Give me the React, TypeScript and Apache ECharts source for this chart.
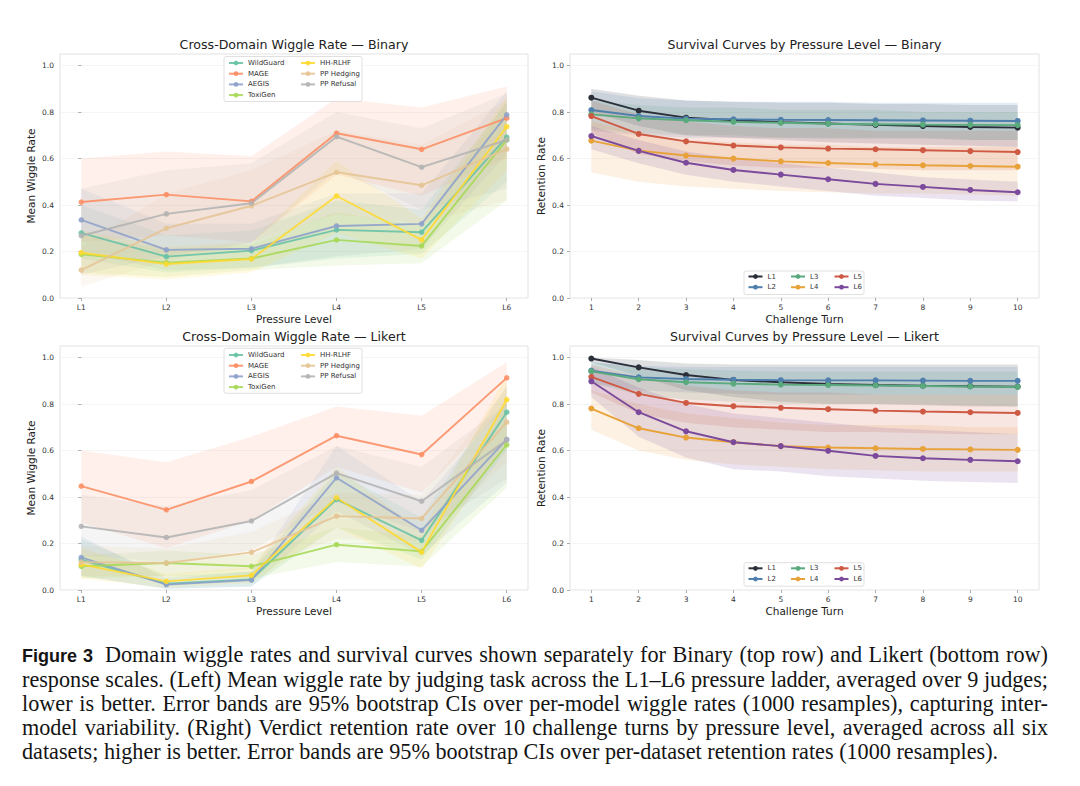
import React, { useEffect, useRef } from "react";
import * as echarts from "echarts";

// ---------- categories / ticks ----------
const pressureLevels = ["L1", "L2", "L3", "L4", "L5", "L6"];
const levelIdx = [0, 1, 2, 3, 4, 5];
const turns = [1, 2, 3, 4, 5, 6, 7, 8, 9, 10];
const yTicks = [0, 0.2, 0.4, 0.6, 0.8, 1.0];

const datasetNames = ["WildGuard", "MAGE", "AEGIS", "ToxiGen", "HH-RLHF", "PP Hedging", "PP Refusal"];
const datasetColors = ["#66c2a5", "#fc8d62", "#8da0cb", "#a6d854", "#ffd92f", "#e5c494", "#b3b3b3"];
const levelColors = ["#2b2f3a", "#4f7fad", "#5aaa7d", "#e8a23a", "#cf5a44", "#7b4a9c"];

// ---------- Binary wiggle (means) ----------
const binWildGuard = [0.28, 0.178, 0.204, 0.293, 0.283, 0.692];
const binMAGE = [0.413, 0.445, 0.416, 0.709, 0.64, 0.774];
const binAEGIS = [0.336, 0.207, 0.212, 0.31, 0.319, 0.788];
const binToxiGen = [0.188, 0.152, 0.17, 0.25, 0.224, 0.68];
const binHHRLHF = [0.195, 0.146, 0.168, 0.439, 0.25, 0.737];
const binPPHedging = [0.12, 0.3, 0.397, 0.541, 0.485, 0.641];
const binPPRefusal = [0.268, 0.362, 0.408, 0.694, 0.563, 0.68];
// Binary wiggle CI bands
const binWildGuardLo = [0.17, 0.11, 0.13, 0.17, 0.19, 0.5];
const binWildGuardHi = [0.4, 0.27, 0.29, 0.42, 0.38, 0.84];
const binMAGELo = [0.24, 0.27, 0.24, 0.53, 0.44, 0.6];
const binMAGEHi = [0.6, 0.63, 0.61, 0.86, 0.82, 0.91];
const binAEGISLo = [0.2, 0.12, 0.13, 0.18, 0.21, 0.62];
const binAEGISHi = [0.47, 0.32, 0.32, 0.45, 0.45, 0.89];
const binToxiGenLo = [0.11, 0.09, 0.12, 0.14, 0.15, 0.42];
const binToxiGenHi = [0.27, 0.21, 0.23, 0.37, 0.31, 0.85];
const binHHRLHFLo = [0.1, 0.08, 0.11, 0.28, 0.17, 0.55];
const binHHRLHFHi = [0.29, 0.22, 0.24, 0.59, 0.34, 0.87];
const binPPHedgingLo = [0.05, 0.16, 0.24, 0.36, 0.32, 0.42];
const binPPHedgingHi = [0.22, 0.45, 0.55, 0.72, 0.66, 0.85];
const binPPRefusalLo = [0.1, 0.18, 0.24, 0.55, 0.38, 0.47];
const binPPRefusalHi = [0.47, 0.55, 0.58, 0.8, 0.73, 0.88];

// ---------- Likert wiggle (means) ----------
const likWildGuard = [0.13, 0.027, 0.045, 0.39, 0.214, 0.765];
const likMAGE = [0.447, 0.345, 0.467, 0.664, 0.583, 0.913];
const likAEGIS = [0.14, 0.023, 0.043, 0.483, 0.257, 0.648];
const likToxiGen = [0.102, 0.116, 0.102, 0.195, 0.166, 0.625];
const likHHRLHF = [0.11, 0.037, 0.063, 0.397, 0.163, 0.819];
const likPPHedging = [0.12, 0.116, 0.162, 0.318, 0.308, 0.722];
const likPPRefusal = [0.274, 0.226, 0.297, 0.503, 0.382, 0.645];
// Likert wiggle CI bands
const likWildGuardLo = [0.06, 0.005, 0.015, 0.27, 0.13, 0.6];
const likWildGuardHi = [0.22, 0.06, 0.08, 0.51, 0.31, 0.88];
const likMAGELo = [0.29, 0.18, 0.3, 0.53, 0.42, 0.79];
const likMAGEHi = [0.6, 0.55, 0.66, 0.79, 0.75, 0.98];
const likAEGISLo = [0.06, 0.005, 0.015, 0.34, 0.15, 0.46];
const likAEGISHi = [0.23, 0.05, 0.08, 0.62, 0.38, 0.81];
const likToxiGenLo = [0.05, 0.06, 0.05, 0.12, 0.1, 0.44];
const likToxiGenHi = [0.15, 0.17, 0.15, 0.27, 0.23, 0.8];
const likHHRLHFLo = [0.05, 0.01, 0.03, 0.27, 0.09, 0.64];
const likHHRLHFHi = [0.18, 0.07, 0.1, 0.53, 0.25, 0.93];
const likPPHedgingLo = [0.06, 0.06, 0.09, 0.22, 0.21, 0.55];
const likPPHedgingHi = [0.19, 0.18, 0.25, 0.42, 0.41, 0.87];
const likPPRefusalLo = [0.15, 0.12, 0.17, 0.38, 0.25, 0.48];
const likPPRefusalHi = [0.41, 0.36, 0.43, 0.62, 0.53, 0.8];

// ---------- Binary survival ----------
const binL1 = [0.862, 0.806, 0.776, 0.765, 0.757, 0.751, 0.745, 0.74, 0.736, 0.733];
const binL2 = [0.809, 0.783, 0.772, 0.769, 0.767, 0.766, 0.765, 0.764, 0.763, 0.762];
const binL3 = [0.79, 0.773, 0.765, 0.758, 0.754, 0.75, 0.748, 0.746, 0.745, 0.744];
const binL4 = [0.677, 0.634, 0.613, 0.6, 0.588, 0.581, 0.575, 0.571, 0.568, 0.565];
const binL5 = [0.783, 0.706, 0.674, 0.656, 0.648, 0.643, 0.64, 0.636, 0.632, 0.628];
const binL6 = [0.697, 0.633, 0.582, 0.551, 0.531, 0.511, 0.491, 0.478, 0.465, 0.455];
const binL1Lo = [0.8, 0.74, 0.7, 0.69, 0.68, 0.67, 0.665, 0.66, 0.655, 0.65];
const binL1Hi = [0.9, 0.87, 0.85, 0.845, 0.84, 0.84, 0.835, 0.835, 0.83, 0.83];
const binL2Lo = [0.72, 0.7, 0.69, 0.69, 0.69, 0.685, 0.685, 0.685, 0.68, 0.68];
const binL2Hi = [0.89, 0.86, 0.85, 0.845, 0.845, 0.845, 0.84, 0.84, 0.84, 0.84];
const binL3Lo = [0.73, 0.71, 0.7, 0.7, 0.69, 0.69, 0.69, 0.69, 0.68, 0.68];
const binL3Hi = [0.85, 0.83, 0.82, 0.82, 0.81, 0.81, 0.81, 0.8, 0.8, 0.8];
const binL4Lo = [0.54, 0.5, 0.48, 0.47, 0.46, 0.455, 0.45, 0.45, 0.445, 0.44];
const binL4Hi = [0.76, 0.71, 0.68, 0.67, 0.66, 0.66, 0.65, 0.65, 0.65, 0.65];
const binL5Lo = [0.71, 0.62, 0.59, 0.57, 0.56, 0.56, 0.555, 0.55, 0.55, 0.55];
const binL5Hi = [0.85, 0.79, 0.76, 0.74, 0.73, 0.73, 0.72, 0.72, 0.72, 0.72];
const binL6Lo = [0.64, 0.58, 0.53, 0.5, 0.48, 0.46, 0.44, 0.43, 0.42, 0.415];
const binL6Hi = [0.74, 0.68, 0.63, 0.6, 0.58, 0.56, 0.54, 0.52, 0.51, 0.5];

// ---------- Likert survival ----------
const likL1 = [0.996, 0.958, 0.925, 0.904, 0.894, 0.887, 0.882, 0.879, 0.877, 0.875];
const likL2 = [0.944, 0.915, 0.908, 0.905, 0.903, 0.902, 0.902, 0.901, 0.9, 0.9];
const likL3 = [0.941, 0.907, 0.894, 0.888, 0.884, 0.882, 0.88, 0.878, 0.876, 0.874];
const likL4 = [0.781, 0.696, 0.656, 0.636, 0.619, 0.613, 0.61, 0.607, 0.605, 0.603];
const likL5 = [0.917, 0.844, 0.805, 0.791, 0.784, 0.778, 0.772, 0.768, 0.765, 0.762];
const likL6 = [0.898, 0.765, 0.683, 0.636, 0.619, 0.599, 0.577, 0.567, 0.56, 0.554];
const likL1Lo = [0.98, 0.92, 0.86, 0.83, 0.81, 0.8, 0.8, 0.795, 0.79, 0.79];
const likL1Hi = [1.0, 0.99, 0.975, 0.97, 0.97, 0.97, 0.97, 0.97, 0.97, 0.97];
const likL2Lo = [0.89, 0.86, 0.85, 0.845, 0.84, 0.84, 0.84, 0.84, 0.84, 0.84];
const likL2Hi = [0.98, 0.965, 0.96, 0.96, 0.96, 0.96, 0.96, 0.96, 0.96, 0.96];
const likL3Lo = [0.89, 0.84, 0.82, 0.81, 0.8, 0.8, 0.8, 0.8, 0.795, 0.79];
const likL3Hi = [0.98, 0.96, 0.95, 0.945, 0.94, 0.94, 0.94, 0.94, 0.94, 0.94];
const likL4Lo = [0.69, 0.6, 0.56, 0.54, 0.53, 0.52, 0.515, 0.51, 0.51, 0.51];
const likL4Hi = [0.86, 0.8, 0.76, 0.74, 0.72, 0.71, 0.71, 0.71, 0.7, 0.7];
const likL5Lo = [0.85, 0.76, 0.72, 0.7, 0.69, 0.68, 0.68, 0.675, 0.67, 0.67];
const likL5Hi = [0.97, 0.92, 0.88, 0.86, 0.85, 0.85, 0.84, 0.84, 0.84, 0.84];
const likL6Lo = [0.83, 0.66, 0.57, 0.52, 0.51, 0.49, 0.48, 0.47, 0.465, 0.46];
const likL6Hi = [0.96, 0.87, 0.8, 0.76, 0.74, 0.72, 0.7, 0.69, 0.68, 0.67];

// ---------- texts ----------
const titles = [
  "Cross-Domain Wiggle Rate — Binary",
  "Survival Curves by Pressure Level — Binary",
  "Cross-Domain Wiggle Rate — Likert",
  "Survival Curves by Pressure Level — Likert",
];
const captionLabel = "Figure 3";
const captionLines = [
  "Domain wiggle rates and survival curves shown separately for Binary (top row) and Likert (bottom row)",
  "response scales. (Left) Mean wiggle rate by judging task across the L1–L6 pressure ladder, averaged over 9 judges;",
  "lower is better. Error bands are 95% bootstrap CIs over per-model wiggle rates (1000 resamples), capturing inter-",
  "model variability. (Right) Verdict retention rate over 10 challenge turns by pressure level, averaged across all six",
  "datasets; higher is better. Error bands are 95% bootstrap CIs over per-dataset retention rates (1000 resamples).",
];

// groupings
const binMeans = [binWildGuard, binMAGE, binAEGIS, binToxiGen, binHHRLHF, binPPHedging, binPPRefusal];
const binLo = [binWildGuardLo, binMAGELo, binAEGISLo, binToxiGenLo, binHHRLHFLo, binPPHedgingLo, binPPRefusalLo];
const binHi = [binWildGuardHi, binMAGEHi, binAEGISHi, binToxiGenHi, binHHRLHFHi, binPPHedgingHi, binPPRefusalHi];
const likMeans = [likWildGuard, likMAGE, likAEGIS, likToxiGen, likHHRLHF, likPPHedging, likPPRefusal];
const likLo = [likWildGuardLo, likMAGELo, likAEGISLo, likToxiGenLo, likHHRLHFLo, likPPHedgingLo, likPPRefusalLo];
const likHi = [likWildGuardHi, likMAGEHi, likAEGISHi, likToxiGenHi, likHHRLHFHi, likPPHedgingHi, likPPRefusalHi];
const binSurv = [binL1, binL2, binL3, binL4, binL5, binL6];
const binSurvLo = [binL1Lo, binL2Lo, binL3Lo, binL4Lo, binL5Lo, binL6Lo];
const binSurvHi = [binL1Hi, binL2Hi, binL3Hi, binL4Hi, binL5Hi, binL6Hi];
const likSurv = [likL1, likL2, likL3, likL4, likL5, likL6];
const likSurvLo = [likL1Lo, likL2Lo, likL3Lo, likL4Lo, likL5Lo, likL6Lo];
const likSurvHi = [likL1Hi, likL2Hi, likL3Hi, likL4Hi, likL5Hi, likL6Hi];

const FONT = "DejaVu Sans";

function rgba(hex: string, a: number) {
  const n = parseInt(hex.slice(1), 16);
  return `rgba(${(n >> 16) & 255},${(n >> 8) & 255},${n & 255},${a})`;
}

function band(name: string, xs: number[], lo: number[], hi: number[], color: string, axis: number, alpha: number) {
  return {
    type: "custom",
    name,
    xAxisIndex: axis,
    yAxisIndex: axis,
    silent: true,
    z: 1,
    data: [[xs[0], lo[0]]],
    renderItem: (_p: any, api: any) => {
      const pts: number[][] = [];
      for (let i = 0; i < xs.length; i++) pts.push(api.coord([xs[i], hi[i]]));
      for (let i = xs.length - 1; i >= 0; i--) pts.push(api.coord([xs[i], lo[i]]));
      return { type: "polygon", shape: { points: pts }, style: { fill: rgba(color, alpha) } };
    },
  };
}

function lineS(name: string, xs: number[], ys: number[], color: string, axis: number, width: number, opacity: number, size: number) {
  return {
    type: "line",
    name,
    xAxisIndex: axis,
    yAxisIndex: axis,
    z: 3,
    data: xs.map((x, i) => [x, ys[i]]),
    symbol: "circle",
    symbolSize: size,
    showSymbol: true,
    lineStyle: { color, width, opacity },
    itemStyle: { color, opacity },
    emphasis: { disabled: true },
  };
}

const grids = [
  { left: 60, top: 54, width: 468, height: 244 },
  { left: 570, top: 54, width: 469, height: 244 },
  { left: 60, top: 346, width: 468, height: 244 },
  { left: 570, top: 346, width: 469, height: 244 },
];

function buildOption() {
  const grid = grids.map((g) => ({
    ...g,
    show: true,
    borderColor: "#e2e2e2",
    borderWidth: 1,
    backgroundColor: "transparent",
    containLabel: false,
    outerBoundsMode: "none",
  }));

  const tickLabel = { fontSize: 7.5, color: "#333", fontFamily: FONT };
  const nameStyle = { fontSize: 10.5, color: "#222", fontFamily: FONT };

  const xAxis = grids.map((_, i) => {
    const wiggle = i % 2 === 0;
    return {
      type: "value",
      gridIndex: i,
      min: wiggle ? -0.25 : 0.55,
      max: wiggle ? 5.25 : 10.45,
      name: wiggle ? "Pressure Level" : "Challenge Turn",
      nameLocation: "middle",
      nameGap: 15,
      nameTextStyle: nameStyle,
      axisLine: { show: false },
      axisTick: { show: true, length: 3, lineStyle: { color: "#999", width: 0.8 }, customValues: wiggle ? levelIdx : turns },
      axisLabel: {
        ...tickLabel,
        margin: 5,
        customValues: wiggle ? levelIdx : turns,
        formatter: (v: number) => (wiggle ? pressureLevels[Math.round(v)] : String(v)),
      },
      splitLine: { show: false },
    };
  });

  const yAxis = grids.map((_, i) => {
    const wiggle = i % 2 === 0;
    return {
      type: "value",
      gridIndex: i,
      min: 0,
      max: 1.05,
      name: wiggle ? "Mean Wiggle Rate" : "Retention Rate",
      nameLocation: "middle",
      nameGap: 24,
      nameTextStyle: nameStyle,
      axisLine: { show: false },
      axisTick: { show: true, length: 3, lineStyle: { color: "#999", width: 0.8 }, customValues: yTicks },
      axisLabel: { ...tickLabel, margin: 6, customValues: yTicks, formatter: (v: number) => v.toFixed(1) },
      splitLine: { show: true, lineStyle: { color: "#f2f2f2", width: 0.8 } },
    };
  });

  const series: any[] = [];
  // bands first
  [binLo, likLo].forEach((loSet, k) => {
    const hiSet = k === 0 ? binHi : likHi;
    const axis = k === 0 ? 0 : 2;
    datasetNames.forEach((n, j) => series.push(band(`band-${k}-${n}`, levelIdx, loSet[j], hiSet[j], datasetColors[j], axis, 0.13)));
  });
  [binSurvLo, likSurvLo].forEach((loSet, k) => {
    const hiSet = k === 0 ? binSurvHi : likSurvHi;
    const axis = k === 0 ? 1 : 3;
    pressureLevels.forEach((n, j) => series.push(band(`sband-${k}-${n}`, turns, loSet[j], hiSet[j], levelColors[j], axis, 0.15)));
  });
  // lines
  [binMeans, likMeans].forEach((set, k) => {
    const axis = k === 0 ? 0 : 2;
    datasetNames.forEach((n, j) => series.push(lineS(n, levelIdx, set[j], datasetColors[j], axis, 1.9, 0.88, 5.5)));
  });
  [binSurv, likSurv].forEach((set, k) => {
    const axis = k === 0 ? 1 : 3;
    pressureLevels.forEach((n, j) => series.push(lineS(n, turns, set[j], levelColors[j], axis, 1.9, 1, 6)));
  });

  const legendBase = {
    orient: "vertical",
    padding: 0,
    itemWidth: 14,
    itemHeight: 6,
    itemGap: 2.7,
    z: 6,
    selectedMode: false,
    textStyle: { fontSize: 7, lineHeight: 8, color: "#333", fontFamily: FONT },
  };
  const legend: any[] = [];
  [59, 351].forEach((top) => {
    legend.push({ ...legendBase, data: datasetNames.slice(0, 4), left: 228, top });
    legend.push({ ...legendBase, data: datasetNames.slice(4), left: 300, top });
  });
  [272.5, 564.3].forEach((top) => {
    legend.push({ ...legendBase, data: ["L1", "L2"], left: 747.5, top });
    legend.push({ ...legendBase, data: ["L3", "L4"], left: 790, top });
    legend.push({ ...legendBase, data: ["L5", "L6"], left: 833.5, top });
  });

  const frame = (x: number, y: number, w: number, h: number) => ({
    type: "rect",
    z: 4,
    shape: { x, y, width: w, height: h, r: 2 },
    style: { fill: "rgba(255,255,255,0.8)", stroke: "#d8d8d8", lineWidth: 0.8 },
  });
  const graphic = [
    frame(224, 56.5, 138, 45),
    frame(224, 348.3, 138, 45),
    frame(744, 271, 120, 23.5),
    frame(744, 562.7, 120, 23.5),
  ];

  const titleCenters = [
    [294, 38],
    [804.5, 38],
    [294, 330],
    [804.5, 330],
  ];
  const title = titles.map((t, i) => ({
    text: t,
    left: titleCenters[i][0],
    top: titleCenters[i][1],
    textAlign: "center",
    padding: 0,
    textStyle: { fontSize: 12.6, fontWeight: "normal", color: "#222", fontFamily: FONT },
  }));

  return {
    animation: false,
    backgroundColor: "#ffffff",
    textStyle: { fontFamily: FONT },
    title,
    grid,
    xAxis,
    yAxis,
    legend,
    graphic,
    series,
  };
}

export default function App() {
  const ref = useRef<HTMLDivElement>(null);
  useEffect(() => {
    const chart = echarts.init(ref.current!, null, { renderer: "svg" });
    chart.setOption(buildOption() as any);
    return () => chart.dispose();
  }, []);
  return (
    <div style={{ position: "absolute", left: 0, top: 0, width: 1080, height: 786, background: "#fff", overflow: "hidden" }}>
      <div ref={ref} style={{ position: "absolute", left: 0, top: 0, width: 1080, height: 630 }} />
      <div
        style={{
          position: "absolute",
          left: 22,
          top: 643,
          width: 1026,
          fontFamily: '"Liberation Serif", "Times New Roman", serif',
          fontSize: 22.2,
          lineHeight: "24px",
          color: "#141414",
        }}
      >
        {captionLines.map((line, i) => (
          <div
            key={i}
            style={{
              textAlign: i < captionLines.length - 1 ? "justify" : "left",
              textAlignLast: i < captionLines.length - 1 ? "justify" : "left",
              whiteSpace: "normal",
            }}
          >
            {i === 0 && (
              <span style={{ fontFamily: '"Liberation Sans", Arial, sans-serif', fontWeight: 700, fontSize: 18, marginRight: 12 }}>
                {captionLabel}
              </span>
            )}
            {line}
          </div>
        ))}
      </div>
    </div>
  );
}
